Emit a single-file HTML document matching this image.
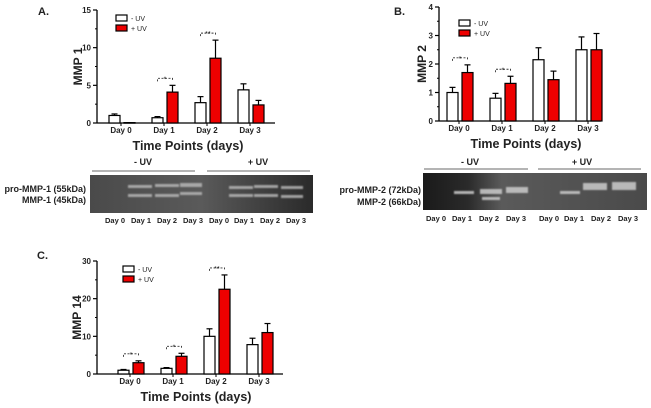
<!DOCTYPE html>
<html><head><meta charset="utf-8"><style>
body{margin:0;background:#fff;width:651px;height:408px;overflow:hidden;font-family:"Liberation Sans",Arial,sans-serif}
svg{position:absolute;left:0;top:0}
</style></head><body>
<svg id="fig" width="651" height="408" viewBox="0 0 651 408">
<defs>
<linearGradient id="gA" x1="0" x2="1"><stop offset="0" stop-color="#4a4a4a"/><stop offset="0.5" stop-color="#5a5a5a"/><stop offset="1" stop-color="#2a2a2a"/></linearGradient>
<linearGradient id="gB" x1="0" x2="1"><stop offset="0" stop-color="#1a1a1a"/><stop offset="0.2" stop-color="#2a2a2a"/><stop offset="0.35" stop-color="#5a5a5a"/><stop offset="1" stop-color="#4a4a4a"/></linearGradient>
<filter id="blur"><feGaussianBlur stdDeviation="0.8"/></filter>
</defs>
<g id="panels"></g>
<!-- Gel A -->
<g font-size="9" font-weight="bold" fill="#222">
<text x="143" y="165" text-anchor="middle">- UV</text>
<text x="258" y="165" text-anchor="middle">+ UV</text>
<line x1="92" y1="171" x2="195" y2="171" stroke="#888" stroke-width="1.2"/>
<line x1="207" y1="171" x2="310" y2="171" stroke="#888" stroke-width="1.2"/>
<rect x="90" y="175" width="223" height="38" fill="url(#gA)"/>
<g fill="#bbb" opacity="0.8" filter="url(#blur)">
<rect x="128" y="185" width="24" height="3"/><rect x="128" y="194" width="24" height="3"/>
<rect x="155" y="184" width="24" height="3"/><rect x="155" y="194" width="24" height="3"/>
<rect x="180" y="183" width="22" height="4"/><rect x="180" y="192" width="22" height="3"/>
<rect x="229" y="186" width="24" height="3"/><rect x="229" y="194" width="24" height="3"/>
<rect x="254" y="185" width="24" height="3"/><rect x="254" y="194" width="24" height="3"/>
<rect x="281" y="186" width="22" height="3"/><rect x="281" y="195" width="22" height="3"/>
</g>
<text x="86" y="192" text-anchor="end" font-size="9">pro-MMP-1 (55kDa)</text>
<text x="86" y="203" text-anchor="end" font-size="9">MMP-1 (45kDa)</text>
<g font-size="7.5" text-anchor="middle">
<text x="115" y="223">Day 0</text><text x="141" y="223">Day 1</text><text x="167" y="223">Day 2</text><text x="193" y="223">Day 3</text>
<text x="219" y="223">Day 0</text><text x="244" y="223">Day 1</text><text x="270" y="223">Day 2</text><text x="296" y="223">Day 3</text>
</g>
</g>
<!-- Gel B -->
<g font-size="9" font-weight="bold" fill="#222">
<text x="470" y="165" text-anchor="middle">- UV</text>
<text x="582" y="165" text-anchor="middle">+ UV</text>
<line x1="424" y1="169" x2="528" y2="169" stroke="#888" stroke-width="1.2"/>
<line x1="538" y1="169" x2="641" y2="169" stroke="#888" stroke-width="1.2"/>
<rect x="423" y="173" width="224" height="37" fill="url(#gB)"/>
<g fill="#ccc" opacity="0.85" filter="url(#blur)">
<rect x="454" y="191" width="20" height="3"/>
<rect x="480" y="189" width="22" height="5"/><rect x="482" y="197" width="18" height="3"/>
<rect x="506" y="187" width="22" height="6"/>
<rect x="560" y="191" width="20" height="3"/>
<rect x="583" y="183" width="24" height="7"/>
<rect x="612" y="182" width="24" height="8"/>
</g>
<text x="421" y="193" text-anchor="end">pro-MMP-2 (72kDa)</text>
<text x="421" y="205" text-anchor="end">MMP-2 (66kDa)</text>
<g font-size="7.5" text-anchor="middle">
<text x="436" y="221">Day 0</text><text x="462" y="221">Day 1</text><text x="489" y="221">Day 2</text><text x="516" y="221">Day 3</text>
<text x="549" y="221">Day 0</text><text x="574" y="221">Day 1</text><text x="601" y="221">Day 2</text><text x="628" y="221">Day 3</text>
</g>
</g>
</svg>
<script>
const days = ["Day 0","Day 1","Day 2","Day 3"];
const mmp1Minus = [1.0, 0.7, 2.7, 4.4];
const mmp1MinusErr = [0.2, 0.15, 0.8, 0.8];
const mmp1Plus = [0.05, 4.1, 8.6, 2.4];
const mmp1PlusErr = [0, 0.9, 2.4, 0.6];
const mmp1Ticks = [0, 5, 10, 15];
const mmp2Minus = [1.0, 0.8, 2.15, 2.5];
const mmp2MinusErr = [0.18, 0.17, 0.42, 0.45];
const mmp2Plus = [1.7, 1.32, 1.45, 2.5];
const mmp2PlusErr = [0.27, 0.25, 0.3, 0.57];
const mmp2Ticks = [0, 1, 2, 3, 4];
const mmp14Minus = [1.0, 1.5, 10, 7.8];
const mmp14MinusErr = [0.2, 0.2, 2, 1.7];
const mmp14Plus = [3.0, 4.7, 22.5, 11];
const mmp14PlusErr = [0.5, 0.8, 3.8, 2.4];
const mmp14Ticks = [0, 10, 20, 30];
const sig1 = [null, "*", "**", null];
const sig2 = ["*", "*", null, null];
const sig14 = ["*", "*", "**", null];

const NS = "http://www.w3.org/2000/svg";
const root = document.getElementById("panels");
function mk(tag, attrs, parent){const e=document.createElementNS(NS,tag);for(const k in attrs)e.setAttribute(k,attrs[k]);parent.appendChild(e);return e;}

function panel(cfg){
  const g = mk("g",{},root);
  
  
  const {ax, y0, y1, xEnd, max, c0} = cfg;
  const sy = v => y0 - (v/max)*(y0-y1);
  const cx = i => c0 + i*43;
  const bw = 11;
  const L = mk("text",{x:cfg.lx,y:cfg.ly,"font-size":11,"font-weight":"bold",fill:"#222"},g); L.textContent=cfg.letter;
  
  
  mk("line",{x1:ax,y1:y1,x2:ax,y2:y0,stroke:"#000","stroke-width":1.3},g);
  mk("line",{x1:ax,y1:y0,x2:xEnd,y2:y0,stroke:"#000","stroke-width":1.3},g);
  cfg.ticks.forEach(t=>{
    const y=sy(t);
    mk("line",{x1:ax-4,y1:y,x2:ax,y2:y,stroke:"#000","stroke-width":1.2},g);
    const tx=mk("text",{x:ax-6,y:y+3,"text-anchor":"end","font-size":8,"font-weight":"bold",fill:"#222"},g);tx.textContent=t;
    
    
  });
  for(let k=0;k<cfg.ticks.length-1;k++){const y=(sy(cfg.ticks[k])+sy(cfg.ticks[k+1]))/2;mk("line",{x1:ax-2,y1:y,x2:ax,y2:y,stroke:"#000"},g);}
  const yl=mk("text",{x:0,y:0,transform:`translate(${ax-ylOff(cfg)},${(y0+y1)/2}) rotate(-90)`,"text-anchor":"middle","font-size":12,"font-weight":"bold",fill:"#222"},g);
  yl.textContent=cfg.ylabel;
  
  
  days.forEach((d,i)=>{
    const c=cx(i);
    mk("line",{x1:c,y1:y0,x2:c,y2:y0+3,stroke:"#000"},g);
    const t=mk("text",{x:c,y:y0+10,"text-anchor":"middle","font-size":8,"font-weight":"bold",fill:"#222"},g);t.textContent=d;
    
    
    [[cfg.minus[i],cfg.minusErr[i],"#fff",c-bw-1],[cfg.plus[i],cfg.plusErr[i],"#e00",c+3]].forEach(([v,e,f,x],j)=>{
      const top=sy(v+e);
      mk("line",{x1:x+bw/2,y1:sy(v),x2:x+bw/2,y2:top,stroke:"#000","stroke-width":1.2},g);
      mk("line",{x1:x+bw/2-3,y1:top,x2:x+bw/2+3,y2:top,stroke:"#000","stroke-width":1.2},g);
      const b=mk("rect",{x:x,y:sy(v),width:bw,height:Math.max(0.5,y0-sy(v)),fill:f,stroke:"#000","stroke-width":1.2},g);
      
      
    });
    if(cfg.sig[i]){
      const top=Math.min(sy(cfg.minus[i]+cfg.minusErr[i]),sy(cfg.plus[i]+cfg.plusErr[i]))-7;
      const x1=c-bw/2-1,x2=c+3+bw/2;
      mk("path",{d:`M${x1},${top+3}V${top}H${x2}V${top+3}`,fill:"none",stroke:"#333","stroke-width":0.9,"stroke-dasharray":"2,1.5"},g);
      const s=mk("text",{x:(x1+x2)/2,y:top+3,"text-anchor":"middle","font-size":7,fill:"#222"},g);s.textContent=cfg.sig[i];
      
      
    }
  });
  const xt=mk("text",{x:cfg.xtx,y:cfg.xty,"text-anchor":"middle","font-size":12.5,"font-weight":"bold",fill:"#222"},g);
  xt.textContent="Time Points  (days)";
  
  
  [["#fff","- UV",0],["#e00","+ UV",10]].forEach(([f,t,dy])=>{
    const r=mk("rect",{x:cfg.legx,y:cfg.legy+dy,width:11,height:6,fill:f,stroke:"#000","stroke-width":1.2},g);
    
    
    const tx=mk("text",{x:cfg.legx+15,y:cfg.legy+dy+6,"font-size":7,fill:"#222"},g);tx.textContent=t;
    
    
  });
}
function ylOff(cfg){ return cfg.ylo; }
panel({name:"chart-mmp1",letter:"A.",lx:38,ly:15,ax:97,y0:123,y1:10,xEnd:275,max:15,c0:121,ticks:mmp1Ticks,ylo:15,
  minus:mmp1Minus,minusErr:mmp1MinusErr,plus:mmp1Plus,plusErr:mmp1PlusErr,sig:sig1,ylabel:"MMP 1",xtx:188,xty:150,legx:116,legy:15});
panel({name:"chart-mmp2",letter:"B.",lx:394,ly:15,ax:439,y0:121,y1:7,xEnd:601,max:4,c0:459,ticks:mmp2Ticks,ylo:13,
  minus:mmp2Minus,minusErr:mmp2MinusErr,plus:mmp2Plus,plusErr:mmp2PlusErr,sig:sig2,ylabel:"MMP 2",xtx:526,xty:148,legx:459,legy:20});
panel({name:"chart-mmp14",letter:"C.",lx:37,ly:259,ax:97,y0:374,y1:261,xEnd:283,max:30,c0:130,ticks:mmp14Ticks,ylo:16,
  minus:mmp14Minus,minusErr:mmp14MinusErr,plus:mmp14Plus,plusErr:mmp14PlusErr,sig:sig14,ylabel:"MMP 14",xtx:196,xty:401,legx:123,legy:266});
</script>
</body></html>
